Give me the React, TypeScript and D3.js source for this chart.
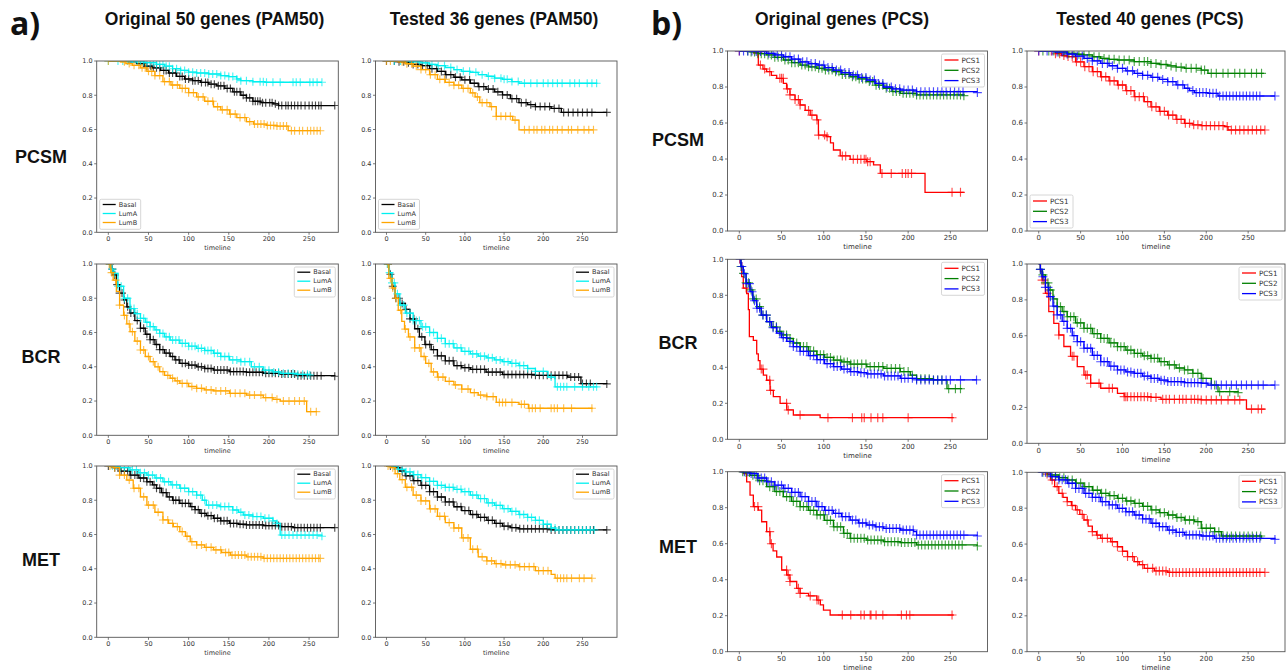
import React from 'react';
import * as d3 from 'd3';

type Knot = [number, number];

// ---------- a) PAM50, original 50 genes ----------
const aOrigPcsmBasal: Knot[] = [[0, 1], [25, 0.995], [35, 0.985], [45, 0.97], [55, 0.96], [65, 0.945], [75, 0.93], [85, 0.91], [95, 0.895], [105, 0.885], [115, 0.875], [125, 0.865], [135, 0.855], [145, 0.84], [155, 0.82], [165, 0.8], [172, 0.785], [180, 0.765], [190, 0.757], [205, 0.75], [212, 0.74], [282, 0.74]];
const aOrigPcsmLumA: Knot[] = [[0, 1], [30, 0.995], [45, 0.99], [60, 0.98], [70, 0.97], [80, 0.955], [90, 0.945], [100, 0.935], [110, 0.93], [125, 0.924], [140, 0.915], [150, 0.909], [160, 0.895], [165, 0.885], [180, 0.879], [195, 0.876], [266, 0.876]];
const aOrigPcsmLumB: Knot[] = [[0, 1], [15, 0.995], [22, 0.985], [30, 0.975], [40, 0.96], [48, 0.94], [58, 0.915], [68, 0.88], [78, 0.86], [89, 0.84], [100, 0.815], [110, 0.79], [120, 0.765], [131, 0.733], [140, 0.715], [151, 0.69], [160, 0.67], [172, 0.646], [181, 0.632], [197, 0.624], [210, 0.62], [224, 0.593], [264, 0.593]];
const aOrigPcsmBasalCens = [40, 44, 48, 53, 56, 60, 64, 69, 72, 76, 80, 84, 89, 92, 96, 100, 105, 108, 112, 116, 121, 124, 128, 132, 137, 140, 144, 148, 152, 157, 160, 164, 168, 172, 176, 180, 183, 186, 189, 192, 196, 201, 204, 208, 212, 216, 221, 224, 228, 232, 236, 240, 245, 250, 254, 258, 262, 265, 282];
const aOrigPcsmLumACens = [0, 12, 18, 24, 30, 36, 40, 44, 48, 52, 56, 60, 64, 68, 72, 76, 80, 85, 90, 95, 100, 105, 110, 115, 120, 125, 130, 135, 140, 145, 150, 155, 160, 165, 172, 180, 189, 193, 197, 205, 214, 230, 234, 239, 251, 255, 260, 266];
const aOrigPcsmLumBCens = [0, 20, 26, 32, 38, 42, 46, 50, 54, 58, 64, 70, 76, 80, 86, 92, 96, 100, 106, 112, 118, 124, 130, 136, 142, 148, 152, 158, 164, 170, 176, 182, 186, 190, 194, 198, 202, 206, 210, 214, 218, 222, 228, 232, 238, 242, 248, 252, 256, 260, 264];

const aOrigBcrBasal: Knot[] = [[0, 1], [3, 0.97], [6, 0.936], [10, 0.88], [14, 0.83], [19, 0.79], [23, 0.75], [27, 0.714], [33, 0.67], [40, 0.625], [46, 0.59], [52, 0.558], [58, 0.53], [64, 0.5], [70, 0.48], [77, 0.46], [83, 0.44], [89, 0.42], [100, 0.41], [110, 0.4], [120, 0.39], [131, 0.381], [151, 0.372], [172, 0.368], [193, 0.362], [214, 0.358], [235, 0.348], [282, 0.345]];
const aOrigBcrLumA: Knot[] = [[0, 1], [3, 0.97], [6, 0.945], [12, 0.87], [19, 0.8], [27, 0.74], [33, 0.71], [40, 0.683], [46, 0.66], [52, 0.634], [58, 0.615], [64, 0.595], [70, 0.575], [77, 0.556], [89, 0.537], [100, 0.52], [110, 0.508], [120, 0.495], [131, 0.479], [140, 0.46], [151, 0.44], [165, 0.43], [178, 0.4], [193, 0.38], [205, 0.37], [214, 0.362], [235, 0.356], [251, 0.352]];
const aOrigBcrLumB: Knot[] = [[0, 1], [3, 0.95], [6, 0.906], [10, 0.84], [14, 0.76], [19, 0.7], [23, 0.65], [27, 0.605], [33, 0.55], [40, 0.498], [46, 0.46], [52, 0.43], [58, 0.4], [64, 0.372], [70, 0.35], [77, 0.333], [83, 0.318], [89, 0.303], [100, 0.285], [110, 0.274], [120, 0.265], [131, 0.259], [151, 0.245], [172, 0.235], [193, 0.22], [205, 0.21], [214, 0.2], [247, 0.138], [260, 0.138]];
const aOrigBcrBasalCens = [2, 5, 8, 11, 14, 17, 20, 24, 28, 32, 36, 40, 44, 48, 52, 56, 60, 64, 68, 72, 76, 80, 84, 88, 92, 96, 100, 104, 108, 112, 116, 120, 124, 128, 132, 136, 140, 144, 148, 152, 156, 160, 164, 168, 172, 176, 180, 184, 188, 192, 196, 200, 204, 208, 212, 216, 220, 224, 228, 232, 236, 240, 244, 248, 252, 256, 260, 265, 282];
const aOrigBcrLumACens = [2, 5, 8, 12, 16, 20, 24, 28, 32, 36, 40, 44, 48, 52, 56, 60, 64, 68, 72, 76, 80, 84, 88, 92, 96, 100, 104, 108, 112, 116, 120, 124, 128, 132, 136, 140, 145, 150, 155, 160, 165, 170, 176, 182, 188, 195, 200, 206, 212, 218, 224, 230, 236, 242, 248, 251];
const aOrigBcrLumBCens = [1, 4, 9, 14, 20, 26, 30, 36, 40, 44, 50, 56, 62, 68, 74, 80, 86, 92, 98, 104, 110, 116, 122, 128, 134, 140, 146, 152, 158, 164, 170, 176, 182, 190, 196, 204, 210, 218, 225, 232, 238, 244, 252, 259];

const aOrigMetBasal: Knot[] = [[0, 1], [6, 0.99], [15, 0.97], [27, 0.947], [38, 0.93], [48, 0.908], [55, 0.89], [60, 0.87], [66, 0.845], [73, 0.82], [80, 0.8], [89, 0.782], [102, 0.763], [108, 0.745], [114, 0.724], [122, 0.71], [131, 0.695], [140, 0.68], [151, 0.665], [162, 0.66], [172, 0.656], [193, 0.652], [214, 0.646], [230, 0.64], [282, 0.64]];
const aOrigMetLumA: Knot[] = [[0, 1], [15, 0.99], [27, 0.977], [38, 0.96], [48, 0.947], [58, 0.93], [68, 0.908], [78, 0.89], [89, 0.87], [100, 0.85], [110, 0.83], [117, 0.8], [122, 0.772], [139, 0.763], [155, 0.743], [162, 0.73], [168, 0.714], [180, 0.705], [193, 0.695], [205, 0.68], [210, 0.665], [214, 0.597], [266, 0.59]];
const aOrigMetLumB: Knot[] = [[0, 1], [6, 0.99], [14, 0.947], [23, 0.918], [31, 0.87], [40, 0.82], [48, 0.772], [58, 0.73], [68, 0.685], [75, 0.665], [81, 0.646], [89, 0.617], [96, 0.59], [102, 0.558], [110, 0.539], [120, 0.525], [131, 0.51], [141, 0.495], [152, 0.48], [172, 0.47], [193, 0.461], [264, 0.461]];
const aOrigMetBasalCens = [0, 8, 12, 16, 20, 24, 28, 33, 36, 40, 44, 48, 52, 57, 60, 64, 68, 72, 76, 81, 84, 88, 92, 96, 100, 104, 108, 112, 116, 120, 124, 128, 132, 136, 140, 144, 148, 152, 156, 160, 164, 168, 172, 176, 180, 184, 188, 192, 196, 200, 204, 208, 212, 216, 220, 224, 228, 232, 236, 240, 244, 248, 252, 256, 260, 264, 282];
const aOrigMetLumACens = [5, 10, 15, 20, 25, 30, 35, 40, 45, 50, 55, 60, 65, 70, 75, 80, 85, 90, 95, 100, 105, 110, 115, 120, 125, 130, 135, 140, 145, 150, 155, 160, 165, 170, 175, 180, 185, 190, 195, 200, 205, 210, 216, 220, 225, 230, 235, 240, 245, 250, 255, 260, 266];
const aOrigMetLumBCens = [2, 8, 14, 20, 26, 32, 38, 44, 50, 56, 62, 68, 74, 80, 86, 92, 98, 104, 110, 116, 122, 128, 134, 140, 146, 150, 154, 158, 162, 166, 170, 174, 178, 182, 186, 190, 194, 198, 202, 206, 210, 214, 218, 222, 226, 230, 234, 238, 242, 246, 250, 254, 258, 262, 264];

// ---------- a) PAM50, tested 36 genes ----------
const aTestPcsmBasal: Knot[] = [[0, 1], [15, 0.995], [24, 0.99], [34, 0.98], [44, 0.973], [55, 0.955], [65, 0.939], [75, 0.92], [86, 0.905], [96, 0.89], [107, 0.87], [117, 0.85], [127, 0.836], [138, 0.82], [148, 0.802], [158, 0.78], [169, 0.757], [180, 0.745], [190, 0.734], [210, 0.723], [223, 0.7], [281, 0.7]];
const aTestPcsmLumA: Knot[] = [[0, 1], [30, 0.995], [44, 0.989], [55, 0.98], [65, 0.973], [75, 0.962], [86, 0.95], [96, 0.94], [107, 0.934], [117, 0.92], [128, 0.911], [138, 0.9], [148, 0.893], [160, 0.88], [169, 0.87], [269, 0.87]];
const aTestPcsmLumB: Knot[] = [[0, 1], [15, 0.995], [24, 0.984], [34, 0.97], [44, 0.95], [55, 0.92], [65, 0.893], [75, 0.875], [86, 0.859], [96, 0.84], [107, 0.814], [113, 0.79], [119, 0.757], [132, 0.734], [140, 0.677], [161, 0.655], [169, 0.598], [264, 0.598]];
const aTestPcsmBasalCens = [0, 10, 16, 22, 28, 34, 40, 46, 52, 58, 64, 70, 76, 82, 88, 94, 100, 106, 112, 118, 124, 130, 136, 142, 148, 154, 160, 166, 172, 178, 184, 190, 196, 202, 208, 214, 220, 226, 232, 238, 244, 250, 256, 262, 281];
const aTestPcsmLumACens = [10, 18, 26, 34, 42, 50, 58, 66, 74, 82, 90, 98, 106, 114, 122, 130, 138, 146, 150, 154, 160, 168, 176, 184, 192, 200, 206, 212, 218, 224, 234, 240, 246, 256, 262, 268];
const aTestPcsmLumBCens = [0, 5, 20, 26, 32, 38, 44, 50, 56, 62, 68, 74, 80, 86, 92, 98, 104, 110, 116, 122, 128, 134, 140, 146, 152, 158, 164, 176, 182, 188, 192, 198, 202, 208, 212, 218, 224, 232, 236, 244, 252, 258, 264];

const aTestBcrBasal: Knot[] = [[0, 1], [3, 0.94], [7, 0.87], [11, 0.8], [17, 0.77], [24, 0.735], [30, 0.68], [36, 0.622], [42, 0.575], [49, 0.53], [57, 0.5], [65, 0.464], [75, 0.435], [86, 0.407], [96, 0.395], [107, 0.385], [127, 0.369], [148, 0.355], [190, 0.35], [231, 0.34], [248, 0.302], [281, 0.3]];
const aTestBcrLumA: Knot[] = [[0, 1], [3, 0.95], [7, 0.89], [11, 0.826], [17, 0.76], [24, 0.713], [34, 0.67], [44, 0.633], [55, 0.6], [65, 0.566], [75, 0.535], [86, 0.51], [96, 0.49], [107, 0.475], [117, 0.462], [128, 0.452], [138, 0.44], [148, 0.43], [158, 0.42], [169, 0.407], [180, 0.39], [190, 0.373], [206, 0.34], [215, 0.283], [269, 0.283]];
const aTestBcrLumB: Knot[] = [[0, 1], [3, 0.916], [7, 0.86], [11, 0.8], [15, 0.73], [19.5, 0.665], [23, 0.62], [28, 0.574], [36, 0.51], [44, 0.46], [50, 0.42], [57, 0.37], [65, 0.34], [75, 0.315], [86, 0.294], [96, 0.27], [107, 0.249], [117, 0.235], [128, 0.226], [140, 0.192], [169, 0.181], [181, 0.158], [263, 0.158]];
const aTestBcrBasalCens = [2, 5, 8, 12, 16, 20, 25, 30, 35, 40, 45, 50, 55, 60, 65, 70, 75, 80, 85, 90, 95, 100, 105, 110, 115, 120, 125, 130, 135, 140, 145, 150, 155, 160, 165, 170, 175, 180, 185, 190, 195, 200, 205, 210, 215, 220, 225, 230, 235, 240, 245, 250, 255, 260, 281];
const aTestBcrLumACens = [1, 4, 7, 10, 14, 18, 22, 26, 30, 34, 38, 42, 46, 50, 55, 60, 65, 70, 75, 80, 85, 90, 95, 100, 105, 110, 115, 120, 125, 130, 135, 140, 145, 150, 155, 160, 165, 170, 175, 180, 190, 200, 210, 218, 222, 226, 230, 240, 250, 258, 264, 268];
const aTestBcrLumBCens = [2, 5, 8, 12, 18, 24, 30, 36, 42, 48, 54, 60, 66, 72, 80, 88, 96, 104, 112, 120, 128, 136, 144, 148, 152, 160, 172, 176, 182, 186, 190, 196, 210, 214, 218, 226, 236, 262];

const aTestMetBasal: Knot[] = [[0, 1], [11, 0.99], [17, 0.97], [24, 0.943], [34, 0.915], [44, 0.887], [55, 0.85], [65, 0.819], [75, 0.79], [86, 0.762], [96, 0.74], [107, 0.717], [117, 0.7], [128, 0.683], [138, 0.665], [148, 0.649], [158, 0.64], [169, 0.633], [210, 0.627], [281, 0.627]];
const aTestMetLumA: Knot[] = [[0, 1], [15, 0.98], [24, 0.966], [34, 0.95], [44, 0.932], [55, 0.91], [65, 0.887], [75, 0.875], [86, 0.864], [96, 0.85], [107, 0.83], [117, 0.81], [128, 0.785], [138, 0.77], [148, 0.751], [158, 0.735], [169, 0.717], [180, 0.7], [190, 0.683], [200, 0.66], [210, 0.638], [216, 0.627], [265, 0.627]];
const aTestMetLumB: Knot[] = [[0, 1], [5, 0.99], [11, 0.955], [17, 0.92], [24, 0.876], [34, 0.83], [44, 0.796], [55, 0.75], [65, 0.706], [75, 0.67], [86, 0.638], [96, 0.58], [107, 0.514], [117, 0.47], [128, 0.446], [138, 0.43], [148, 0.423], [169, 0.412], [190, 0.389], [210, 0.367], [215, 0.345], [262, 0.345]];
const aTestMetBasalCens = [5, 10, 15, 20, 25, 30, 35, 40, 45, 50, 55, 60, 65, 70, 75, 80, 85, 90, 95, 100, 105, 110, 115, 120, 125, 130, 135, 140, 145, 150, 155, 160, 165, 170, 175, 180, 185, 190, 195, 200, 205, 210, 215, 220, 225, 230, 235, 240, 245, 250, 255, 260, 264, 281];
const aTestMetLumACens = [10, 15, 20, 25, 30, 35, 40, 45, 50, 55, 60, 65, 70, 75, 80, 85, 90, 95, 100, 105, 110, 115, 120, 125, 130, 135, 140, 145, 150, 155, 160, 165, 170, 175, 180, 185, 190, 195, 200, 205, 210, 215, 220, 225, 230, 235, 240, 245, 250, 255, 260, 265];
const aTestMetLumBCens = [2, 8, 14, 20, 26, 32, 38, 44, 50, 56, 62, 68, 74, 80, 86, 92, 98, 104, 110, 116, 122, 128, 134, 140, 146, 152, 158, 164, 170, 176, 182, 188, 194, 200, 206, 218, 222, 226, 230, 236, 246, 252, 262];

// ---------- b) PCS, original genes ----------
const bOrigPcsmPcs1: Knot[] = [[0, 1], [17, 0.99], [22.5, 0.922], [28, 0.9], [32.4, 0.885], [38, 0.865], [44.3, 0.848], [52.2, 0.82], [56, 0.79], [60, 0.756], [66, 0.73], [72, 0.7], [78, 0.67], [84, 0.644], [91.8, 0.617], [93.7, 0.533], [103.6, 0.524], [108, 0.49], [111.5, 0.45], [119.5, 0.417], [131.3, 0.398], [151, 0.385], [159, 0.367], [167, 0.32], [220, 0.215], [266, 0.215]];
const bOrigPcsmPcs2: Knot[] = [[0, 1], [12.7, 0.995], [22, 0.985], [32.4, 0.978], [42, 0.965], [52.2, 0.95], [62, 0.935], [72, 0.922], [82, 0.912], [91.8, 0.904], [101, 0.895], [111.5, 0.885], [121, 0.87], [131.3, 0.857], [141, 0.845], [151, 0.83], [161, 0.81], [171, 0.793], [181, 0.775], [190.7, 0.765], [210, 0.756], [266, 0.752]];
const bOrigPcsmPcs3: Knot[] = [[0, 1], [20, 0.997], [32.4, 0.987], [42, 0.978], [52.2, 0.968], [62, 0.955], [72, 0.94], [82, 0.93], [91.8, 0.922], [101, 0.908], [111.5, 0.894], [121, 0.88], [131.3, 0.867], [141, 0.853], [151, 0.839], [161, 0.82], [171, 0.8], [181, 0.79], [190.7, 0.783], [210, 0.774], [281.6, 0.769]];
const bOrigPcsmPcs1Cens = [0, 22, 25, 30, 36, 48, 50, 52, 57, 60, 66, 70, 72, 82, 86, 92, 94, 101, 104, 122, 126, 135, 140, 144, 148, 150, 152, 155, 169, 180, 193, 197, 200, 204, 252, 262];
const bOrigPcsmPcs2Cens = [10, 14, 18, 22, 26, 30, 34, 38, 42, 46, 50, 54, 58, 62, 66, 70, 74, 78, 82, 86, 90, 94, 98, 102, 106, 110, 114, 118, 122, 126, 130, 134, 138, 142, 146, 150, 154, 158, 162, 166, 170, 174, 178, 182, 186, 190, 194, 198, 202, 206, 210, 214, 218, 222, 226, 230, 234, 238, 242, 246, 250, 254, 258, 262, 266];
const bOrigPcsmPcs3Cens = [0, 5, 10, 15, 20, 25, 30, 35, 40, 45, 50, 55, 60, 65, 70, 75, 80, 85, 90, 95, 100, 105, 110, 115, 120, 125, 130, 135, 140, 145, 150, 155, 160, 165, 170, 175, 180, 185, 190, 195, 200, 205, 210, 215, 220, 225, 230, 235, 240, 245, 250, 255, 260, 265, 282];

const bOrigBcrPcs1: Knot[] = [[0, 1], [0.8, 0.98], [2.8, 0.904], [4.7, 0.84], [8.7, 0.81], [10.7, 0.72], [11.9, 0.57], [16.6, 0.55], [20.6, 0.475], [22.5, 0.437], [24.5, 0.39], [28.5, 0.356], [32.4, 0.328], [36.4, 0.272], [40.3, 0.237], [48.3, 0.2], [56.2, 0.163], [64, 0.135], [95.7, 0.12], [254, 0.12]];
const bOrigBcrPcs2: Knot[] = [[0, 1], [2, 0.96], [4.7, 0.922], [8, 0.87], [12.7, 0.83], [16, 0.78], [20.6, 0.737], [26, 0.69], [32.4, 0.654], [38, 0.625], [44.3, 0.6], [50, 0.58], [56.2, 0.56], [64, 0.535], [72, 0.515], [82, 0.49], [91.8, 0.47], [101, 0.455], [111.5, 0.44], [121, 0.43], [131.3, 0.418], [151, 0.404], [171, 0.394], [190.7, 0.376], [202.5, 0.356], [210, 0.337], [230, 0.33], [246, 0.281], [264, 0.281]];
const bOrigBcrPcs3: Knot[] = [[0, 1], [2, 0.96], [4.7, 0.92], [8, 0.865], [12.7, 0.82], [16, 0.77], [20.6, 0.728], [26, 0.69], [32.4, 0.654], [38, 0.62], [44.3, 0.59], [50, 0.565], [56.2, 0.544], [64, 0.515], [72, 0.489], [82, 0.465], [91.8, 0.443], [101, 0.42], [111.5, 0.404], [121, 0.39], [131.3, 0.376], [141, 0.37], [151, 0.363], [171, 0.352], [190.7, 0.339], [210, 0.33], [281.6, 0.33]];
const bOrigBcrPcs1Cens = [8, 26, 28, 36, 37, 56, 58, 72, 105, 134, 145, 148, 156, 164, 170, 200, 252];
const bOrigBcrPcs2Cens = [2, 5, 8, 11, 14, 17, 20, 24, 28, 32, 36, 40, 44, 48, 52, 56, 60, 64, 68, 72, 76, 80, 84, 88, 92, 96, 100, 104, 108, 112, 116, 120, 124, 128, 132, 136, 140, 145, 150, 155, 160, 165, 170, 175, 180, 185, 190, 195, 200, 205, 210, 215, 220, 225, 230, 235, 240, 248, 256, 262];
const bOrigBcrPcs3Cens = [1, 3, 6, 9, 12, 15, 18, 21, 24, 28, 32, 36, 40, 44, 48, 52, 56, 60, 64, 68, 72, 76, 80, 84, 88, 92, 96, 100, 104, 108, 112, 116, 120, 124, 128, 132, 136, 140, 144, 148, 152, 156, 160, 164, 168, 172, 176, 180, 184, 188, 192, 196, 200, 205, 210, 215, 220, 225, 230, 235, 240, 245, 250, 262, 281];

const bOrigMetPcs1: Knot[] = [[0, 1], [5, 0.99], [8.7, 0.944], [12.7, 0.87], [16.6, 0.806], [22.5, 0.787], [26.5, 0.722], [32.4, 0.667], [36.4, 0.6], [40, 0.56], [44.3, 0.526], [50.2, 0.454], [56.2, 0.426], [60, 0.39], [68, 0.352], [72, 0.324], [82, 0.31], [91.8, 0.287], [96, 0.26], [99.7, 0.231], [107.6, 0.204], [254, 0.204]];
const bOrigMetPcs2: Knot[] = [[0, 1], [4.7, 0.995], [12.7, 0.98], [22, 0.95], [32.4, 0.917], [42, 0.89], [52.2, 0.861], [62, 0.835], [72, 0.806], [82, 0.785], [91.8, 0.76], [101, 0.73], [111.5, 0.694], [123.4, 0.657], [131.3, 0.63], [151, 0.62], [171, 0.611], [190.7, 0.606], [210, 0.593], [281.6, 0.587]];
const bOrigMetPcs3: Knot[] = [[0, 1], [12.7, 0.99], [22, 0.965], [32.4, 0.944], [42, 0.925], [52.2, 0.907], [62, 0.885], [72, 0.861], [82, 0.835], [91.8, 0.806], [101, 0.785], [111.5, 0.769], [121, 0.75], [131.3, 0.731], [141, 0.715], [151, 0.704], [161, 0.694], [171, 0.685], [190.7, 0.676], [206.5, 0.667], [210, 0.648], [281.6, 0.643]];
const bOrigMetPcs1Cens = [18, 22, 36, 38, 56, 58, 60, 70, 72, 84, 92, 94, 122, 132, 144, 148, 155, 156, 162, 170, 192, 198, 202, 252];
const bOrigMetPcs2Cens = [4, 8, 12, 16, 20, 24, 28, 32, 36, 40, 44, 48, 52, 56, 60, 64, 68, 72, 76, 80, 84, 88, 92, 96, 100, 104, 108, 112, 116, 120, 124, 128, 132, 136, 140, 144, 148, 152, 156, 160, 164, 168, 172, 176, 180, 184, 188, 192, 196, 200, 204, 208, 212, 216, 220, 224, 228, 232, 236, 240, 244, 248, 252, 256, 260, 264, 282];
const bOrigMetPcs3Cens = [6, 10, 14, 18, 22, 26, 30, 34, 38, 42, 46, 50, 54, 58, 62, 66, 70, 74, 78, 82, 86, 90, 94, 98, 102, 106, 110, 114, 118, 122, 126, 130, 134, 138, 142, 146, 150, 154, 158, 162, 166, 170, 174, 178, 182, 186, 190, 194, 198, 202, 206, 210, 214, 218, 222, 226, 230, 234, 238, 242, 246, 250, 254, 258, 262, 266, 282];

// ---------- b) PCS, tested 40 genes ----------
const bTestPcsmPcs1: Knot[] = [[0, 1], [14, 1], [20, 0.985], [27, 0.975], [34, 0.969], [44, 0.94], [54, 0.913], [64, 0.885], [74, 0.857], [84, 0.834], [94, 0.811], [104, 0.78], [114, 0.746], [126, 0.719], [134, 0.69], [144, 0.665], [154, 0.644], [164, 0.62], [174, 0.598], [184, 0.59], [194, 0.585], [222, 0.58], [226, 0.561], [270, 0.561]];
const bTestPcsmPcs2: Knot[] = [[0, 1], [20, 0.995], [34, 0.987], [44, 0.982], [54, 0.978], [64, 0.968], [74, 0.959], [84, 0.954], [94, 0.95], [114, 0.941], [134, 0.931], [144, 0.925], [154, 0.917], [164, 0.91], [174, 0.904], [194, 0.894], [202, 0.876], [268, 0.872]];
const bTestPcsmPcs3: Knot[] = [[0, 1], [20, 0.995], [34, 0.983], [44, 0.972], [54, 0.959], [64, 0.945], [74, 0.931], [84, 0.918], [94, 0.904], [104, 0.89], [114, 0.876], [124, 0.865], [134, 0.854], [144, 0.842], [154, 0.83], [164, 0.812], [174, 0.793], [180, 0.78], [186, 0.769], [202, 0.765], [214, 0.75], [282, 0.75]];
const bTestPcsmPcs1Cens = [0, 15, 20, 25, 30, 35, 40, 45, 50, 55, 60, 65, 70, 75, 80, 85, 90, 95, 100, 105, 110, 115, 120, 125, 130, 135, 140, 145, 150, 155, 160, 165, 170, 175, 180, 185, 190, 195, 200, 205, 210, 215, 220, 225, 230, 235, 240, 245, 250, 255, 260, 265, 270];
const bTestPcsmPcs2Cens = [5, 12, 18, 24, 30, 36, 42, 48, 54, 60, 66, 72, 78, 84, 90, 96, 102, 108, 114, 120, 126, 130, 134, 140, 146, 152, 158, 164, 170, 176, 182, 188, 194, 198, 206, 212, 220, 226, 234, 240, 246, 254, 260, 266];
const bTestPcsmPcs3Cens = [0, 10, 16, 22, 28, 34, 40, 46, 52, 58, 64, 70, 76, 82, 88, 94, 100, 106, 112, 118, 124, 130, 136, 142, 148, 154, 160, 166, 172, 178, 184, 188, 192, 196, 200, 204, 208, 212, 216, 220, 224, 228, 232, 236, 240, 244, 248, 252, 256, 260, 264, 282];

const bTestBcrPcs1: Knot[] = [[0, 1], [2, 0.96], [4, 0.91], [8, 0.836], [12, 0.734], [18, 0.669], [24, 0.604], [30, 0.54], [38, 0.485], [46, 0.428], [54, 0.381], [62, 0.335], [74, 0.307], [94, 0.279], [102, 0.26], [134, 0.256], [146, 0.245], [194, 0.242], [248, 0.191], [270, 0.191]];
const bTestBcrPcs2: Knot[] = [[0, 1], [2, 0.97], [4, 0.939], [8, 0.895], [12, 0.855], [17, 0.805], [22, 0.762], [28, 0.735], [34, 0.706], [44, 0.672], [54, 0.641], [64, 0.612], [74, 0.585], [84, 0.56], [94, 0.539], [104, 0.52], [114, 0.502], [124, 0.488], [134, 0.474], [144, 0.455], [154, 0.437], [164, 0.42], [174, 0.409], [184, 0.39], [194, 0.362], [206, 0.325], [214, 0.288], [238, 0.283]];
const bTestBcrPcs3: Knot[] = [[0, 1], [2, 0.97], [4, 0.929], [8, 0.87], [12, 0.818], [17, 0.765], [22, 0.716], [28, 0.68], [34, 0.641], [40, 0.6], [46, 0.567], [54, 0.53], [64, 0.49], [74, 0.455], [84, 0.43], [94, 0.409], [104, 0.398], [114, 0.39], [124, 0.375], [134, 0.362], [144, 0.352], [154, 0.344], [174, 0.338], [194, 0.335], [202, 0.325], [282, 0.325]];
const bTestBcrPcs1Cens = [4, 6, 10, 24, 40, 42, 56, 58, 62, 72, 84, 88, 102, 104, 106, 110, 114, 118, 122, 126, 130, 134, 140, 148, 152, 156, 162, 168, 172, 176, 182, 186, 190, 194, 200, 206, 212, 218, 226, 234, 240, 254, 262, 266];
const bTestBcrPcs2Cens = [2, 5, 8, 11, 14, 18, 22, 26, 30, 34, 38, 42, 46, 50, 54, 58, 62, 66, 70, 74, 78, 82, 86, 90, 94, 98, 102, 106, 110, 114, 118, 122, 126, 130, 134, 138, 142, 146, 150, 156, 162, 168, 174, 178, 184, 190, 196, 210, 216, 228, 238];
const bTestBcrPcs3Cens = [2, 5, 8, 11, 14, 18, 22, 26, 30, 34, 38, 42, 46, 50, 54, 58, 62, 66, 70, 74, 78, 82, 86, 90, 94, 98, 102, 106, 110, 114, 118, 122, 126, 130, 134, 138, 142, 146, 150, 154, 158, 162, 166, 170, 174, 178, 182, 186, 190, 194, 200, 206, 212, 218, 224, 230, 236, 242, 248, 254, 262, 268, 282];

const bTestMetPcs1: Knot[] = [[0, 1], [10, 0.99], [14, 0.957], [19, 0.92], [24, 0.883], [29, 0.86], [34, 0.836], [39, 0.815], [44, 0.79], [49, 0.765], [54, 0.734], [59, 0.7], [64, 0.669], [69, 0.65], [74, 0.632], [86, 0.613], [94, 0.585], [100, 0.56], [106, 0.53], [114, 0.502], [120, 0.485], [126, 0.465], [138, 0.45], [154, 0.442], [270, 0.442]];
const bTestMetPcs2: Knot[] = [[0, 1], [14, 0.985], [24, 0.97], [34, 0.957], [44, 0.94], [54, 0.92], [64, 0.9], [74, 0.883], [84, 0.87], [94, 0.855], [104, 0.84], [114, 0.827], [124, 0.81], [134, 0.79], [144, 0.775], [154, 0.762], [164, 0.748], [174, 0.734], [186, 0.725], [194, 0.688], [210, 0.669], [218, 0.645], [266, 0.635]];
const bTestMetPcs3: Knot[] = [[0, 1], [14, 0.976], [24, 0.958], [34, 0.939], [44, 0.91], [54, 0.883], [64, 0.86], [74, 0.836], [84, 0.818], [94, 0.799], [104, 0.78], [114, 0.762], [124, 0.74], [134, 0.716], [144, 0.697], [154, 0.678], [164, 0.665], [174, 0.651], [194, 0.645], [210, 0.632], [282, 0.626]];
const bTestMetPcs1Cens = [10, 16, 22, 28, 34, 40, 46, 52, 58, 64, 70, 76, 82, 88, 94, 100, 106, 112, 118, 124, 130, 136, 140, 144, 148, 152, 156, 160, 164, 168, 172, 176, 180, 184, 188, 192, 196, 200, 204, 208, 212, 216, 220, 224, 228, 232, 236, 240, 244, 248, 252, 256, 260, 264, 270];
const bTestMetPcs2Cens = [5, 10, 15, 20, 25, 30, 35, 40, 45, 50, 55, 60, 65, 70, 75, 80, 85, 90, 95, 100, 105, 110, 115, 120, 125, 130, 135, 140, 145, 150, 155, 160, 165, 170, 175, 180, 185, 190, 195, 200, 205, 210, 215, 220, 225, 230, 235, 240, 245, 250, 255, 260, 265];
const bTestMetPcs3Cens = [4, 8, 12, 16, 20, 24, 28, 32, 36, 40, 44, 48, 52, 56, 60, 64, 68, 72, 76, 80, 84, 88, 92, 96, 100, 104, 108, 112, 116, 120, 124, 128, 132, 136, 140, 144, 148, 152, 156, 160, 164, 168, 172, 176, 180, 184, 188, 192, 196, 200, 204, 208, 212, 216, 220, 224, 228, 232, 236, 240, 244, 248, 252, 256, 260, 264, 282];

const pamGroups = ['Basal', 'LumA', 'LumB'];
const pcsGroups = ['PCS1', 'PCS2', 'PCS3'];
const pamColors = ['#000000', '#00f0f0', '#ffa500'];
const pcsColors = ['#ff0000', '#008000', '#0000ff'];
const endpoints = ['PCSM', 'BCR', 'MET'];
const columnTitles = ['Original 50 genes (PAM50)', 'Tested 36 genes (PAM50)', 'Original genes (PCS)', 'Tested 40 genes (PCS)'];
const panelLetters = ['a)', 'b)'];
const yTicks = [0, 0.2, 0.4, 0.6, 0.8, 1.0];
const xTicks = [0, 50, 100, 150, 200, 250];

// survival curves and censor times per column, row, group
const curves: Knot[][][][] = [
  [[aOrigPcsmBasal, aOrigPcsmLumA, aOrigPcsmLumB], [aOrigBcrBasal, aOrigBcrLumA, aOrigBcrLumB], [aOrigMetBasal, aOrigMetLumA, aOrigMetLumB]],
  [[aTestPcsmBasal, aTestPcsmLumA, aTestPcsmLumB], [aTestBcrBasal, aTestBcrLumA, aTestBcrLumB], [aTestMetBasal, aTestMetLumA, aTestMetLumB]],
  [[bOrigPcsmPcs1, bOrigPcsmPcs2, bOrigPcsmPcs3], [bOrigBcrPcs1, bOrigBcrPcs2, bOrigBcrPcs3], [bOrigMetPcs1, bOrigMetPcs2, bOrigMetPcs3]],
  [[bTestPcsmPcs1, bTestPcsmPcs2, bTestPcsmPcs3], [bTestBcrPcs1, bTestBcrPcs2, bTestBcrPcs3], [bTestMetPcs1, bTestMetPcs2, bTestMetPcs3]],
];
const censors: number[][][][] = [
  [[aOrigPcsmBasalCens, aOrigPcsmLumACens, aOrigPcsmLumBCens], [aOrigBcrBasalCens, aOrigBcrLumACens, aOrigBcrLumBCens], [aOrigMetBasalCens, aOrigMetLumACens, aOrigMetLumBCens]],
  [[aTestPcsmBasalCens, aTestPcsmLumACens, aTestPcsmLumBCens], [aTestBcrBasalCens, aTestBcrLumACens, aTestBcrLumBCens], [aTestMetBasalCens, aTestMetLumACens, aTestMetLumBCens]],
  [[bOrigPcsmPcs1Cens, bOrigPcsmPcs2Cens, bOrigPcsmPcs3Cens], [bOrigBcrPcs1Cens, bOrigBcrPcs2Cens, bOrigBcrPcs3Cens], [bOrigMetPcs1Cens, bOrigMetPcs2Cens, bOrigMetPcs3Cens]],
  [[bTestPcsmPcs1Cens, bTestPcsmPcs2Cens, bTestPcsmPcs3Cens], [bTestBcrPcs1Cens, bTestBcrPcs2Cens, bTestBcrPcs3Cens], [bTestMetPcs1Cens, bTestMetPcs2Cens, bTestMetPcs3Cens]],
];

// layout of the four image columns
const rowsA = [[61, 232.3], [264, 435.3], [466, 637.3]];
const legendA = { w: 41, h: 30, first: 5.2, step: 9, fs: 6.5, line: 13 };
const legendB = { w: 43, h: 33, first: 6, step: 10.3, fs: 7.2, line: 14 };
const columns = [
  { x0: 96.7, x1: 338.3, domain: [-14.5, 286.4], rows: rowsA, fs: 6.5, ms: 4, legend: legendA, corners: ['ll', 'ur', 'ur'], groups: pamGroups, colors: pamColors, title: 214.5 },
  { x0: 375.5, x1: 617, domain: [-14, 294], rows: rowsA, fs: 6.5, ms: 4, legend: legendA, corners: ['ll', 'ur', 'ur'], groups: pamGroups, colors: pamColors, title: 494 },
  { x0: 727.5, x1: 987.5, domain: [-14, 294], rows: [[51, 231], [259.3, 439.3], [471.7, 651.7]], fs: 7, ms: 4.5, legend: legendB, corners: ['ur', 'ur', 'ur'], groups: pcsGroups, colors: pcsColors, title: 842 },
  { x0: 1027, x1: 1285, domain: [-14, 294], rows: [[51, 231], [264, 443.3], [472.3, 651.7]], fs: 7, ms: 4.5, legend: legendB, corners: ['ll', 'ur', 'ur'], groups: pcsGroups, colors: pcsColors, title: 1150 },
];
const rowLabelA = { x: 41, ys: [157, 357, 560] };
const rowLabelB = { x: 678, ys: [140, 343, 547] };

const bisect = d3.bisector((k: Knot) => k[0]).right;
const stepAt = (knots: Knot[], t: number) => knots[Math.max(0, bisect(knots, t) - 1)][1];

function Panel({ ci, ri }: { ci: number; ri: number }) {
  const col = columns[ci];
  const [y0, y1] = col.rows[ri];
  const x = d3.scaleLinear().domain(col.domain).range([col.x0, col.x1]);
  const y = d3.scaleLinear().domain([0, 1]).range([y1, y0]);
  const line = d3.line<Knot>().x(d => x(d[0])).y(d => y(d[1])).curve(d3.curveStepAfter);
  const clipId = `clip-${ci}-${ri}`;
  const lg = col.legend;
  const corner = col.corners[ri];
  const lx = corner === 'ur' ? col.x1 - 3 - lg.w : col.x0 + 3;
  const ly = corner === 'ur' ? y0 + 3 : y1 - 3 - lg.h;
  const ms = col.ms;
  const axisColor = '#555';
  const textColor = '#333';
  const font = 'DejaVu Sans, sans-serif';

  return (
    <g>
      <defs>
        <clipPath id={clipId}>
          <rect x={col.x0} y={y0} width={col.x1 - col.x0} height={y1 - y0} />
        </clipPath>
      </defs>
      <g clipPath={`url(#${clipId})`}>
        {curves[ci][ri].map((knots, gi) => (
          <g key={gi}>
            <path d={line(knots) || ''} fill="none" stroke={col.colors[gi]} strokeWidth={1.3} />
            <path
              d={censors[ci][ri][gi]
                .map(t => {
                  const cx = x(t);
                  const cy = y(stepAt(knots, t));
                  return `M${cx - ms},${cy}H${cx + ms}M${cx},${cy - ms}V${cy + ms}`;
                })
                .join('')}
              fill="none"
              stroke={col.colors[gi]}
              strokeWidth={1.15}
              opacity={0.7}
            />
          </g>
        ))}
      </g>
      <rect x={col.x0} y={y0} width={col.x1 - col.x0} height={y1 - y0} fill="none" stroke={axisColor} strokeWidth={0.9} />
      {yTicks.map(v => (
        <g key={v}>
          <line x1={col.x0 - 2.5} x2={col.x0} y1={y(v)} y2={y(v)} stroke={axisColor} strokeWidth={0.8} />
          <text x={col.x0 - 4} y={y(v)} dy="0.35em" textAnchor="end" fontSize={col.fs} fill={textColor} fontFamily={font}>
            {v.toFixed(1)}
          </text>
        </g>
      ))}
      {xTicks.map(v => (
        <g key={v}>
          <line x1={x(v)} x2={x(v)} y1={y1} y2={y1 + 2.5} stroke={axisColor} strokeWidth={0.8} />
          <text x={x(v)} y={y1 + 4} dy="0.75em" textAnchor="middle" fontSize={col.fs} fill={textColor} fontFamily={font}>
            {v}
          </text>
        </g>
      ))}
      <text x={(col.x0 + col.x1) / 2} y={y1 + 13} dy="0.75em" textAnchor="middle" fontSize={col.fs} fill={textColor} fontFamily={font}>
        timeline
      </text>
      <g>
        <rect x={lx} y={ly} width={lg.w} height={lg.h} rx={1.5} fill="#fff" fillOpacity={0.8} stroke="#ccc" strokeWidth={0.8} />
        {col.groups.map((g, gi) => (
          <g key={g}>
            <line x1={lx + 3} x2={lx + 3 + lg.line} y1={ly + lg.first + gi * lg.step} y2={ly + lg.first + gi * lg.step} stroke={col.colors[gi]} strokeWidth={1.3} />
            <text x={lx + 6 + lg.line} y={ly + lg.first + gi * lg.step} dy="0.35em" fontSize={lg.fs} fill={textColor} fontFamily={font}>
              {g}
            </text>
          </g>
        ))}
      </g>
    </g>
  );
}

export default function App() {
  const bold = 'Liberation Sans, Arial, sans-serif';
  return (
    <svg width={1286} height={671} style={{ position: 'absolute', left: 0, top: 0, background: '#fff' }}>
      <rect width={1286} height={671} fill="#fff" />
      <text x={10} y={35} fontSize={32} fontWeight={700} fontFamily="Open Sans, sans-serif" fill="#111">{panelLetters[0]}</text>
      <text x={651} y={35} fontSize={32} fontWeight={700} fontFamily="Open Sans, sans-serif" fill="#111">{panelLetters[1]}</text>
      {columns.map((c, ci) => (
        <text key={ci} x={c.title} y={25} textAnchor="middle" fontSize={17.5} fontWeight={700} fontFamily={bold} fill="#111">
          {columnTitles[ci]}
        </text>
      ))}
      {endpoints.map((e, ri) => (
        <g key={e}>
          <text x={rowLabelA.x} y={rowLabelA.ys[ri]} dy="0.35em" textAnchor="middle" fontSize={18} fontWeight={700} fontFamily={bold} fill="#111">{e}</text>
          <text x={rowLabelB.x} y={rowLabelB.ys[ri]} dy="0.35em" textAnchor="middle" fontSize={18} fontWeight={700} fontFamily={bold} fill="#111">{e}</text>
        </g>
      ))}
      {columns.map((_, ci) => endpoints.map((_, ri) => <Panel key={`${ci}-${ri}`} ci={ci} ri={ri} />))}
    </svg>
  );
}
